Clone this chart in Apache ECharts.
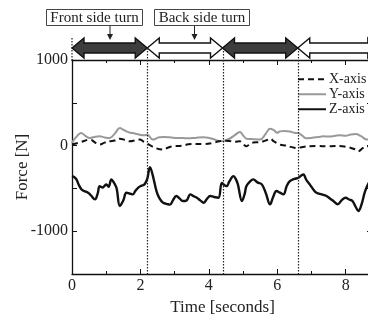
<!DOCTYPE html>
<html>
<head>
<meta charset="utf-8">
<script src="https://cdn.jsdelivr.net/npm/echarts@6/dist/echarts.min.js"></script>
<style>html,body{margin:0;padding:0;background:#fff}#c{width:368px;height:324px}</style>
</head>
<body>
<div id="c"></div>
<script>
// ---- data ----
var seriesNames = ['X-axis', 'Y-axis', 'Z-axis'];
var xTime  = [0,0.25,0.52,0.7,0.81,0.95,1.1,1.25,1.4,1.55,1.69,1.85,1.98,2.1,2.17,2.3,2.45,2.66,2.8,2.95,3.1,3.24,3.4,3.6,3.85,4.1,4.3,4.43,4.6,4.75,4.9,5.0,5.1,5.2,5.3,5.45,5.6,5.7,5.79,5.9,6.08,6.25,6.4,6.57,6.75,6.95,7.2,7.44,7.7,7.9,8.1,8.25,8.37,8.5,8.63,8.8];
var xForce = [12,40,70,30,12,35,50,60,81,65,50,60,70,45,30,0,-30,-47,-25,-8,-5,0,15,19,19,30,50,58,55,45,50,20,-8,20,35,40,50,65,81,50,12,0,-15,-28,-15,-8,-5,-8,-5,-8,-20,-40,-66,-30,-8,-15];
var yTime  = [0,0.1,0.27,0.4,0.52,0.65,0.81,0.95,1.1,1.25,1.4,1.5,1.59,1.7,1.78,1.9,1.98,2.1,2.2,2.36,2.55,2.7,2.9,3.05,3.24,3.4,3.6,3.85,4.0,4.15,4.33,4.45,4.6,4.75,4.91,5.0,5.1,5.3,5.5,5.65,5.79,5.9,6.0,6.08,6.2,6.37,6.5,6.62,6.75,6.85,7.0,7.2,7.35,7.5,7.7,7.83,8.0,8.15,8.3,8.45,8.63,8.8];
var yForce = [30,90,146,110,88,100,108,95,88,140,205,185,166,150,146,135,128,120,128,70,97,100,95,90,88,85,90,97,90,75,50,55,80,120,158,120,81,75,70,130,198,180,150,166,170,166,150,146,110,85,90,100,108,105,115,120,115,130,135,110,70,80];
var zTime  = [0,0.07,0.13,0.2,0.28,0.35,0.47,0.55,0.67,0.75,0.81,0.9,0.95,1.0,1.07,1.15,1.22,1.3,1.4,1.5,1.59,1.68,1.78,1.85,1.93,2.02,2.12,2.2,2.28,2.35,2.47,2.55,2.66,2.76,2.86,2.95,3.05,3.15,3.24,3.35,3.46,3.55,3.65,3.75,3.85,3.95,4.04,4.15,4.28,4.38,4.45,4.52,4.6,4.72,4.8,4.85,4.97,5.05,5.1,5.2,5.3,5.42,5.55,5.67,5.79,5.88,5.98,6.08,6.18,6.28,6.37,6.5,6.62,6.76,6.85,6.95,7.05,7.15,7.3,7.44,7.55,7.65,7.77,7.88,8.0,8.1,8.2,8.3,8.37,8.47,8.57,8.7,8.8];
var zForce = [-357,-370,-395,-460,-512,-530,-551,-580,-628,-560,-473,-490,-470,-453,-480,-395,-430,-493,-705,-640,-551,-560,-570,-530,-493,-470,-453,-390,-252,-330,-531,-610,-667,-680,-690,-640,-589,-620,-648,-640,-570,-590,-609,-640,-667,-620,-589,-600,-609,-435,-460,-473,-420,-357,-400,-453,-648,-560,-473,-420,-395,-430,-453,-560,-686,-600,-531,-550,-570,-470,-415,-390,-376,-337,-400,-453,-510,-551,-570,-589,-620,-650,-686,-640,-609,-630,-648,-720,-764,-680,-531,-420,-380];
var phaseBounds = [0, 2.2, 4.4, 6.6, 9.0];
var phaseLabels = ['Front side turn', 'Back side turn'];
var xTickLabels = [0, 2, 4, 6, 8];
var yTickLabels = [1000, 0, -1000];

function pairs(t, v) { return t.map(function (x, i) { return [x, v[i]]; }); }

var FONT = '"Liberation Serif","DejaVu Serif",serif';
var chart = echarts.init(document.getElementById('c'), null, {renderer: 'canvas'});

var axisLineStyle = {color: '#111', width: 1.3};
var option = {
  animation: false,
  backgroundColor: '#fff',
  grid: {left: 72, top: 60, width: 301, height: 214, outerBoundsMode: 'none', containLabel: false},
  legend: {
    orient: 'vertical', left: 297, top: 72, itemWidth: 28, itemHeight: 10, itemGap: 0.5,
    padding: 0,
    itemStyle: {color: 'rgba(0,0,0,0)', borderColor: 'rgba(0,0,0,0)', borderWidth: 0, opacity: 0},
    textStyle: {fontFamily: FONT, fontSize: 14, color: '#222', lineHeight: 14.5, padding: [0, 0, 0, -2]},
    data: seriesNames
  },
  xAxis: [{
    type: 'value', min: 0, max: 8.8, interval: 2, position: 'bottom',
    name: 'Time [seconds]', nameLocation: 'middle', nameGap: 25, nameMoveOverlap: false,
    nameTextStyle: {fontFamily: FONT, fontSize: 17, color: '#222'},
    axisLine: {show: true, onZero: false, lineStyle: axisLineStyle},
    axisTick: {show: true, inside: true, length: 5, lineStyle: {color: '#111'}},
    minorTick: {show: true, splitNumber: 2, length: 3, lineStyle: {color: '#111'}},
    splitLine: {show: false},
    axisLabel: {fontFamily: FONT, fontSize: 16, color: '#222', margin: 4, showMaxLabel: false,
      formatter: function (v) { return xTickLabels.indexOf(v) >= 0 ? String(v) : ''; }}
  }, {
    type: 'value', min: 0, max: 8.8, interval: 2, position: 'top',
    axisLine: {show: true, onZero: false, lineStyle: axisLineStyle},
    axisTick: {show: true, inside: true, length: 5, lineStyle: {color: '#111'}},
    minorTick: {show: true, splitNumber: 2, length: 3, lineStyle: {color: '#111'}},
    splitLine: {show: false}, axisLabel: {show: false}
  }],
  yAxis: [{
    type: 'value', min: -1500, max: 1000, interval: 500, position: 'left',
    name: 'Force [N]', nameLocation: 'middle', nameGap: 41, nameRotate: 90, nameMoveOverlap: false,
    nameTextStyle: {fontFamily: FONT, fontSize: 17, color: '#222'},
    axisLine: {show: true, onZero: false, lineStyle: axisLineStyle},
    axisTick: {show: true, inside: true, length: 5, lineStyle: {color: '#111'}},
    splitLine: {show: false},
    axisLabel: {fontFamily: FONT, fontSize: 16, color: '#222', margin: 4,
      formatter: function (v) { return yTickLabels.indexOf(v) >= 0 ? String(v) : ''; }}
  }, {
    type: 'value', min: -1500, max: 1000, interval: 500, position: 'right',
    axisLine: {show: true, onZero: false, lineStyle: axisLineStyle},
    axisTick: {show: true, inside: true, length: 6, lineStyle: {color: '#111'}},
    splitLine: {show: false}, axisLabel: {show: false}
  }],
  series: [{
    name: seriesNames[0], type: 'line', data: pairs(xTime, xForce), smooth: 0.4,
    symbol: 'none', showSymbol: false, z: 3,
    lineStyle: {color: '#111', width: 2, type: [6, 4]}, itemStyle: {color: '#111'}
  }, {
    name: seriesNames[1], type: 'line', data: pairs(yTime, yForce), smooth: 0.4,
    symbol: 'none', showSymbol: false, z: 2,
    lineStyle: {color: '#999', width: 2}, itemStyle: {color: '#999'}
  }, {
    name: seriesNames[2], type: 'line', data: pairs(zTime, zForce), smooth: 0.4,
    symbol: 'none', showSymbol: false, z: 4,
    lineStyle: {color: '#111', width: 2.4}, itemStyle: {color: '#111'}
  }]
};
chart.setOption(option);

// ---- annotations (phase arrows, dotted boundaries, labels) ----
function px(t) { return chart.convertToPixel({xAxisIndex: 0}, t); }
var cy = 48, h = 5, H = 10, L = 12;
var g = [];
for (var i = 0; i < phaseBounds.length - 1; i++) {
  var x1 = px(phaseBounds[i]), x2 = px(phaseBounds[i + 1]);
  g.push({
    type: 'polygon', z: 10,
    shape: {points: [[x1, cy], [x1 + L, cy - H], [x1 + L, cy - h], [x2 - L, cy - h], [x2 - L, cy - H], [x2, cy],
      [x2 - L, cy + H], [x2 - L, cy + h], [x1 + L, cy + h], [x1 + L, cy + H]]},
    style: {fill: i % 2 === 0 ? '#3d3d3d' : '#fff', stroke: '#111', lineWidth: 1.4}
  });
}
var yBottom = chart.convertToPixel({yAxisIndex: 0}, -1500);
var yTop = chart.convertToPixel({yAxisIndex: 0}, 1000);
g.push({type: 'line', z: 11, shape: {x1: px(0), y1: 38, x2: px(0), y2: yTop},
  style: {stroke: '#222', lineWidth: 1.2, lineDash: [1.5, 1.5]}});
for (var j = 1; j < phaseBounds.length - 1; j++) {
  var xb = Math.round(px(phaseBounds[j])) + 0.5;
  g.push({type: 'line', z: 11, shape: {x1: xb, y1: cy, x2: xb, y2: yBottom},
    style: {stroke: '#222', lineWidth: 1.2, lineDash: [1.5, 1.5]}});
}
var boxes = [{x: 46, w: 96, ax: 110}, {x: 154, w: 95, ax: 194.5}];
boxes.forEach(function (b, k) {
  g.push({type: 'rect', z: 10, shape: {x: b.x + 0.5, y: 9.5, width: b.w, height: 16},
    style: {fill: '#fff', stroke: '#444', lineWidth: 1}});
  g.push({type: 'text', z: 11, x: b.x + b.w / 2 + 0.5, y: 18,
    style: {text: phaseLabels[k], font: '15px ' + FONT, fill: '#222', align: 'center', verticalAlign: 'middle'}});
  g.push({type: 'line', z: 11, shape: {x1: b.ax, y1: 26, x2: b.ax, y2: 35},
    style: {stroke: '#222', lineWidth: 1}});
  g.push({type: 'polygon', z: 11, shape: {points: [[b.ax - 3, 34], [b.ax + 3, 34], [b.ax, 40]]},
    style: {fill: '#222'}});
});
chart.setOption({graphic: g});
</script>
</body>
</html>
